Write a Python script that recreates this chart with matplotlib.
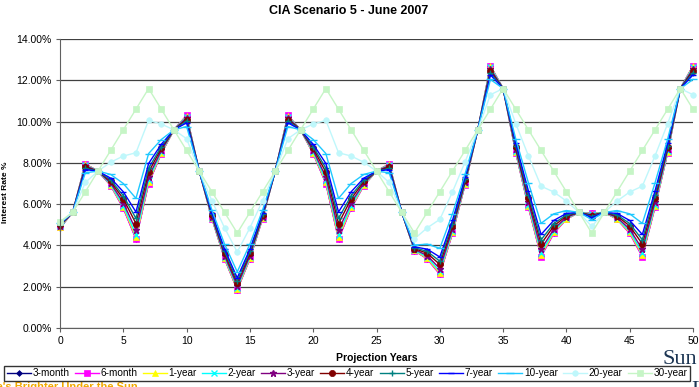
import matplotlib
matplotlib.use("Agg")
import matplotlib.pyplot as plt
from matplotlib.ticker import FuncFormatter, MultipleLocator

plt.rcParams['font.family'] = ['Liberation Sans', 'DejaVu Sans']

years = list(range(0, 51))

# interest rates in percent
m3 = [4.85, 5.6, 7.94, 7.6, 6.91, 5.82, 4.33, 7.02, 8.46, 9.6, 10.29, 7.6, 5.31, 3.36, 1.86, 3.36, 5.31, 7.6, 10.29, 9.6,
      8.46, 7.02, 4.33, 5.82, 6.91, 7.6, 7.94, 5.6, 3.75, 3.36, 2.62, 4.6, 6.96, 9.6, 12.69, 11.6, 8.51, 5.87, 3.48, 4.6,
      5.28, 5.6, 5.55, 5.6, 5.28, 4.6, 3.48, 5.87, 8.51, 11.6, 12.69]
m6 = [4.88, 5.6, 7.95, 7.6, 6.9, 5.8, 4.3, 7.0, 8.45, 9.6, 10.3, 7.6, 5.3, 3.35, 1.85, 3.35, 5.3, 7.6, 10.3, 9.6,
      8.45, 7.0, 4.3, 5.8, 6.9, 7.6, 7.95, 5.6, 3.75, 3.35, 2.6, 4.58, 6.95, 9.6, 12.7, 11.6, 8.5, 5.85, 3.45, 4.58,
      5.27, 5.6, 5.55, 5.6, 5.27, 4.58, 3.45, 5.85, 8.5, 11.6, 12.7]
y1 = [4.9, 5.6, 7.93, 7.6, 6.93, 5.86, 4.39, 7.07, 8.48, 9.6, 10.27, 7.6, 5.32, 3.38, 1.89, 3.38, 5.32, 7.6, 10.27, 9.6,
      8.48, 7.07, 4.39, 5.86, 6.93, 7.6, 7.93, 5.6, 3.76, 3.38, 2.66, 4.63, 6.97, 9.6, 12.67, 11.6, 8.53, 5.91, 3.53, 4.63,
      5.29, 5.6, 5.54, 5.6, 5.29, 4.63, 3.53, 5.91, 8.53, 11.6, 12.67]
y2 = [4.93, 5.6, 7.9, 7.6, 6.96, 5.93, 4.52, 7.16, 8.53, 9.6, 10.24, 7.6, 5.35, 3.43, 1.95, 3.43, 5.35, 7.6, 10.24, 9.6,
      8.53, 7.16, 4.52, 5.93, 6.96, 7.6, 7.9, 5.6, 3.78, 3.43, 2.74, 4.69, 7.01, 9.6, 12.63, 11.6, 8.57, 5.98, 3.63, 4.69,
      5.32, 5.6, 5.52, 5.6, 5.32, 4.69, 3.63, 5.98, 8.57, 11.6, 12.63]
y3 = [4.95, 5.6, 7.86, 7.6, 7.02, 6.07, 4.74, 7.32, 8.6, 9.6, 10.18, 7.6, 5.39, 3.51, 2.04, 3.51, 5.39, 7.6, 10.18, 9.6,
      8.6, 7.32, 4.74, 6.07, 7.02, 7.6, 7.86, 5.6, 3.81, 3.51, 2.88, 4.79, 7.07, 9.6, 12.55, 11.6, 8.65, 6.11, 3.81, 4.79,
      5.36, 5.6, 5.48, 5.6, 5.36, 4.79, 3.81, 6.11, 8.65, 11.6, 12.55]
y4 = [4.97, 5.6, 7.79, 7.6, 7.1, 6.26, 5.06, 7.55, 8.71, 9.6, 10.1, 7.6, 5.46, 3.62, 2.18, 3.62, 5.46, 7.6, 10.1, 9.6,
      8.71, 7.55, 5.06, 6.26, 7.1, 7.6, 7.79, 5.6, 3.85, 3.62, 3.08, 4.94, 7.15, 9.6, 12.45, 11.6, 8.75, 6.3, 4.07, 4.94,
      5.43, 5.6, 5.44, 5.6, 5.43, 4.94, 4.07, 6.3, 8.75, 11.6, 12.45]
y5 = [5.0, 5.6, 7.73, 7.6, 7.17, 6.41, 5.31, 7.74, 8.79, 9.6, 10.03, 7.6, 5.51, 3.71, 2.29, 3.71, 5.51, 7.6, 10.03, 9.6,
      8.79, 7.74, 5.31, 6.41, 7.17, 7.6, 7.73, 5.6, 3.89, 3.71, 3.24, 5.06, 7.21, 9.6, 12.36, 11.6, 8.84, 6.45, 4.27, 5.06,
      5.48, 5.6, 5.4, 5.6, 5.48, 5.06, 4.27, 6.45, 8.84, 11.6, 12.36]
y7 = [5.03, 5.6, 7.67, 7.6, 7.26, 6.6, 5.62, 7.97, 8.9, 9.6, 9.94, 7.6, 5.57, 3.82, 2.43, 3.82, 5.57, 7.6, 9.94, 9.6,
      8.9, 7.97, 5.62, 6.6, 7.26, 7.6, 7.67, 5.6, 3.93, 3.82, 3.44, 5.21, 7.3, 9.6, 12.26, 11.6, 8.94, 6.64, 4.53, 5.21,
      5.55, 5.6, 5.35, 5.6, 5.55, 5.21, 4.53, 6.64, 8.94, 11.6, 12.26]
y10 = [5.07, 5.6, 7.52, 7.6, 7.44, 7.0, 6.28, 8.45, 9.13, 9.6, 9.76, 7.6, 5.71, 4.06, 2.72, 4.06, 5.71, 7.6, 9.76, 9.6,
       9.13, 8.45, 6.28, 7.0, 7.44, 7.6, 7.52, 5.6, 4.02, 4.06, 3.86, 5.53, 7.47, 9.6, 12.04, 11.6, 9.16, 7.03, 5.07, 5.53,
       5.69, 5.6, 5.25, 5.6, 5.69, 5.53, 5.07, 7.03, 9.16, 11.6, 12.04]
y20 = [5.12, 5.6, 7.05, 7.6, 8.03, 8.33, 8.49, 10.06, 9.88, 9.6, 9.17, 7.6, 6.16, 4.85, 3.68, 4.85, 6.16, 7.6, 9.17, 9.6,
       9.88, 10.06, 8.49, 8.33, 8.03, 7.6, 7.05, 5.6, 4.32, 4.85, 5.26, 6.59, 8.05, 9.6, 11.3, 11.6, 9.9, 8.34, 6.87, 6.59,
       6.15, 5.6, 4.92, 5.6, 6.15, 6.59, 6.87, 8.34, 9.9, 11.6, 11.3]
y30 = [5.15, 5.6, 6.6, 7.6, 8.6, 9.6, 10.6, 11.6, 10.6, 9.6, 8.6, 7.6, 6.6, 5.6, 4.6, 5.6, 6.6, 7.6, 8.6, 9.6,
       10.6, 11.6, 10.6, 9.6, 8.6, 7.6, 6.6, 5.6, 4.6, 5.6, 6.6, 7.6, 8.6, 9.6, 10.6, 11.6, 10.6, 9.6, 8.6, 7.6,
       6.6, 5.6, 4.6, 5.6, 6.6, 7.6, 8.6, 9.6, 10.6, 11.6, 10.6]

labels = ['3-month', '6-month', '1-year', '2-year', '3-year', '4-year', '5-year', '7-year', '10-year', '20-year', '30-year']
series = [m3, m6, y1, y2, y3, y4, y5, y7, y10, y20, y30]
colors = ['#000080', '#ff00ff', '#ffff00', '#00ffff', '#800080', '#800000', '#008080', '#0000ff', '#1ec8ff',
          '#bff7fb', '#c6f5c6']
markers = ['D', 's', '^', 'x', '*', 'o', '+', '_', '_', 'o', 's']
msizes = [3, 4, 4.5, 4.5, 5, 4.5, 5, 5, 6, 4, 4.5]

fig = plt.figure(figsize=(6.99, 3.87), dpi=100)
ax = fig.add_axes([60 / 699, 1 - 328 / 387, 633 / 699, 289 / 387])

for vals, lab, c, m, ms in zip(series, labels, colors, markers, msizes):
    mew = 1.0 if m in ('x', '+', '_', '*') else 0.5
    ax.plot(years, vals, color=c, marker=m, markersize=ms, markeredgewidth=mew,
            markeredgecolor=c, linewidth=1.0, label=lab, clip_on=False)

ax.set_xlim(0, 50)
ax.set_ylim(0, 14)
ax.xaxis.set_major_locator(MultipleLocator(5))
ax.yaxis.set_major_locator(MultipleLocator(2))
ax.yaxis.set_major_formatter(FuncFormatter(lambda v, p: '%.2f%%' % v))
ax.grid(axis='y', color='#404040', linewidth=0.9)
ax.set_axisbelow(True)
for s in ['top', 'right']:
    ax.spines[s].set_visible(False)
ax.spines['left'].set_color('#606060')
ax.spines['bottom'].set_color('#606060')
ax.tick_params(axis='both', labelsize=7.5, colors='#606060', labelcolor='black', length=3, width=0.8, pad=3)

ax.set_xlabel('Projection Years', fontsize=7.5, fontweight='bold', labelpad=5)
ax.set_ylabel('Interest Rate %', fontsize=6, fontweight='bold')
ax.yaxis.set_label_coords(-0.08, 0.47)
fig.text(349 / 699, 1 - 11 / 387, 'CIA Scenario 5 - June 2007', fontsize=9, fontweight='bold',
         ha='center', va='center')

# background branding
fig.text(138 / 699, 1 - 390 / 387, "Life's Brighter Under the Sun", fontsize=8, fontweight='bold',
         color='#f2a900', ha='right', va='baseline', zorder=0)
fig.text(662 / 699, 1 - 364 / 387, 'Sun', fontsize=16, color='#1c3553', family='Liberation Serif',
         ha='left', va='baseline', zorder=0)
fig.text(691 / 699, 1 - 395 / 387, 'Li', fontsize=16, color='#1c3553', family='Liberation Serif',
         ha='left', va='baseline', zorder=0)

leg = fig.legend(loc='lower center', bbox_to_anchor=(347 / 699, 6 / 387), ncol=11, fontsize=7.2,
                 frameon=True, fancybox=False, edgecolor='black', handlelength=2.4, handletextpad=0.2,
                 columnspacing=0.5, borderpad=0.25, borderaxespad=0)
leg.get_frame().set_linewidth(1.0)

fig.savefig('out.png', dpi=100)
